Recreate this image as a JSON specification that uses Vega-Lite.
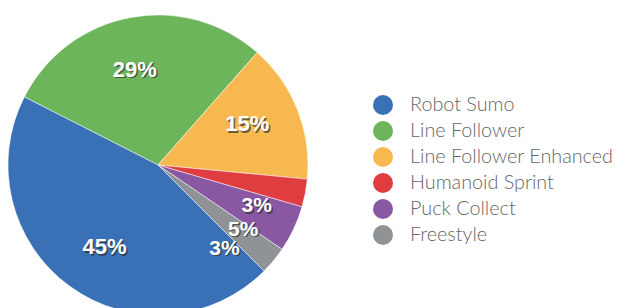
{
  "$schema": "https://vega.github.io/schema/vega-lite/v6.json",
  "width": 316,
  "height": 300,
  "autosize": {"type": "none"},
  "padding": {"left": 0, "top": 15, "right": 312, "bottom": 0},
  "background": "white",
  "data": {"values": [
    {"event": "Line Follower", "pct": 29, "label": "29%", "ord": 1},
    {"event": "Line Follower Enhanced", "pct": 15, "label": "15%", "ord": 2},
    {"event": "Humanoid Sprint", "pct": 3, "label": "3%", "ord": 3},
    {"event": "Puck Collect", "pct": 5, "label": "5%", "ord": 4},
    {"event": "Freestyle", "pct": 3, "label": "3%", "ord": 5},
    {"event": "Robot Sumo", "pct": 45, "label": "45%", "ord": 6}
  ]},
  "config": {
    "view": {"stroke": null},
    "legend": {"padding": 0},
    "text": {"font": "Liberation Sans"}
  },
  "resolve": {"scale": {"theta": "independent"}},
  "layer": [
    {
      "mark": {"type": "arc", "stroke": "white", "strokeWidth": 0.5},
      "encoding": {
        "theta": {"field": "pct", "type": "quantitative", "stack": true, "scale": {"range": [-1.0996, 5.1836]}},
        "order": {"field": "ord", "type": "quantitative"},
        "color": {
          "field": "event", "type": "nominal",
          "scale": {
            "domain": ["Robot Sumo", "Line Follower", "Line Follower Enhanced", "Humanoid Sprint", "Puck Collect", "Freestyle"],
            "range": ["#3a70b6", "#6db55b", "#f7b94f", "#df3d40", "#8a57a3", "#8f9396"]
          },
          "legend": {
            "title": null,
            "orient": "none",
            "legendX": 373,
            "legendY": 80,
            "symbolType": "circle",
            "symbolSize": 400,
            "symbolStrokeWidth": 0,
            "labelFont": "Lato",
            "labelFontWeight": 300,
            "labelFontSize": 19.8,
            "labelColor": "#666666",
            "labelOffset": 17,
            "rowPadding": 6,
            "labelLimit": 300
          }
        }
      }
    },
    {
      "mark": {"type": "text", "radius": 98, "fontSize": 22, "fontWeight": "bold", "fill": "#333333", "opacity": 0.7, "dx": 1.5, "dy": 1.5},
      "encoding": {
        "theta": {"field": "pct", "type": "quantitative", "stack": true, "scale": {"range": [-1.15, 5.1332]}},
        "order": {"field": "ord", "type": "quantitative"},
        "text": {"condition": {"test": "datum.pct >= 10", "field": "label"}, "value": ""}
      }
    },
    {
      "mark": {"type": "text", "radius": 98, "fontSize": 22, "fontWeight": "bold", "fill": "white"},
      "encoding": {
        "theta": {"field": "pct", "type": "quantitative", "stack": true, "scale": {"range": [-1.15, 5.1332]}},
        "order": {"field": "ord", "type": "quantitative"},
        "text": {"condition": {"test": "datum.pct >= 10", "field": "label"}, "value": ""}
      }
    },
    {
      "mark": {"type": "text", "radius": 107, "fontSize": 21, "fontWeight": "bold", "fill": "#333333", "opacity": 0.7, "dx": 1.5, "dy": 1.5},
      "encoding": {
        "theta": {"field": "pct", "type": "quantitative", "stack": true, "scale": {"range": [-0.8902, 5.3930]}},
        "order": {"field": "ord", "type": "quantitative"},
        "text": {"condition": {"test": "datum.pct < 10", "field": "label"}, "value": ""}
      }
    },
    {
      "mark": {"type": "text", "radius": 107, "fontSize": 21, "fontWeight": "bold", "fill": "white"},
      "encoding": {
        "theta": {"field": "pct", "type": "quantitative", "stack": true, "scale": {"range": [-0.8902, 5.3930]}},
        "order": {"field": "ord", "type": "quantitative"},
        "text": {"condition": {"test": "datum.pct < 10", "field": "label"}, "value": ""}
      }
    }
  ]
}
